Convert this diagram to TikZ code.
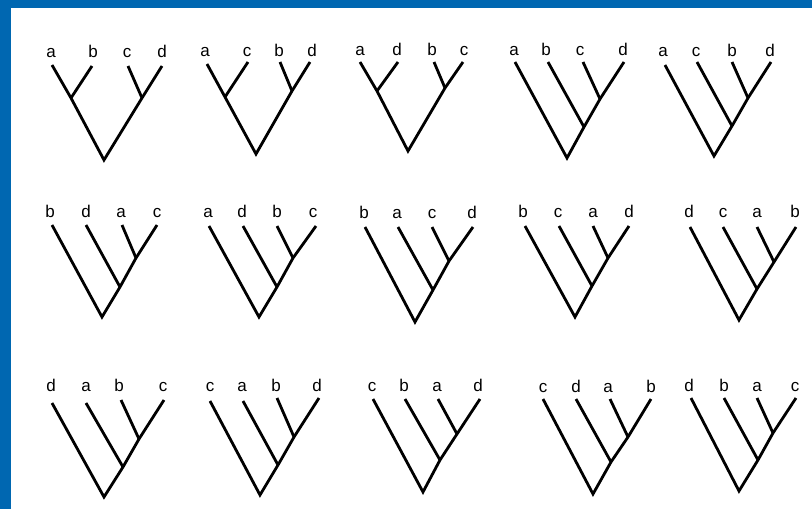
\documentclass[tikz,border=0pt]{standalone}
\usepackage{fontspec}
\setmainfont{Liberation Sans}
\definecolor{frameblue}{RGB}{0,103,177}
\tikzset{
  br/.style={line width=2.8pt, black},
  lab/.style={anchor=base, inner sep=0pt, font=\fontsize{17}{17}\selectfont},
}
\newcommand\leaves[3]{\foreach \t/\x [count=\i] in {#2} {\node[lab] (#1l\i) at (\x,#3) {\t};}}
\newcommand\tips[2]{\foreach \x/\y [count=\i] in {#2} {\coordinate (#1t\i) at (\x,\y);}}
\newcommand\ladder[1]{\draw[br] (#1t1) -- (#1r) -- (#1k) -- (#1j) -- (#1t4); \draw[br] (#1t2) -- (#1k); \draw[br] (#1t3) -- (#1j);}
\newcommand\symtree[1]{\draw[br] (#1t1) -- (#1j) -- (#1r) -- (#1k) -- (#1t4); \draw[br] (#1t2) -- (#1j); \draw[br] (#1t3) -- (#1k);}
\begin{document}
\begin{tikzpicture}[x=1pt,y=-1pt]
\useasboundingbox (0,0) rectangle (812,509);
\fill[white] (0,0) rectangle (812,509);
\fill[frameblue] (0,0) rectangle (11,509);
\fill[frameblue] (0,0) rectangle (812,8);
% Row 1
\leaves{A}{a/51,b/93,c/127,d/162}{57}
\tips{A}{52/65,92/66,128/66,162/66}
\coordinate (Aj) at (71,98); \coordinate (Ak) at (142,98); \coordinate (Ar) at (104,160);
\symtree{A}
\leaves{B}{a/205,c/247,b/279,d/312}{56}
\tips{B}{207/64,248/62,280/62,310/62}
\coordinate (Bj) at (225,97); \coordinate (Bk) at (292,91); \coordinate (Br) at (256,154);
\symtree{B}
\leaves{C}{a/360,d/397,b/432,c/464}{55}
\tips{C}{360/62,398/62,434/62,463/62}
\coordinate (Cj) at (377,91); \coordinate (Ck) at (445,88); \coordinate (Cr) at (408,151);
\symtree{C}
\leaves{D}{a/514,b/546,c/580,d/623}{55}
\tips{D}{515/62,548/62,583/62,624/62}
\coordinate (Dj) at (600,99); \coordinate (Dk) at (584,127); \coordinate (Dr) at (567,158);
\ladder{D}
\leaves{E}{a/663,c/696,b/732,d/770}{56}
\tips{E}{665/65,697/62,732/62,771/62}
\coordinate (Ej) at (748,98); \coordinate (Ek) at (732,126); \coordinate (Er) at (714,156);
\ladder{E}
% Row 2
\leaves{F}{b/50,d/86,a/121,c/157}{217}
\tips{F}{52/225,86/225,122/225,157/225}
\coordinate (Fj) at (136,258); \coordinate (Fk) at (120,287); \coordinate (Fr) at (102,317);
\ladder{F}
\leaves{G}{a/208,d/242,b/277,c/313}{217}
\tips{G}{209/226,243/226,277/226,316/226}
\coordinate (Gj) at (293,258); \coordinate (Gk) at (277,287); \coordinate (Gr) at (259,317);
\ladder{G}
\leaves{H}{b/364,a/397,c/432,d/472}{218}
\tips{H}{365/227,398/227,432/227,473/227}
\coordinate (Hj) at (449,261); \coordinate (Hk) at (433,290); \coordinate (Hr) at (415,322);
\ladder{H}
\leaves{I}{b/523,c/558,a/593,d/629}{217}
\tips{I}{525/226,559/226,593/226,629/226}
\coordinate (Ij) at (608,258); \coordinate (Ik) at (592,286); \coordinate (Ir) at (575,317);
\ladder{I}
\leaves{J}{d/689,c/723,a/757,b/795}{217}
\tips{J}{690/227,723/227,757/227,796/227}
\coordinate (Jj) at (774,262); \coordinate (Jk) at (757,289); \coordinate (Jr) at (739,320);
\ladder{J}
% Row 3
\leaves{K}{d/51,a/86,b/119,c/163}{391}
\tips{K}{52/403,86/403,121/400,164/400}
\coordinate (Kj) at (139,439); \coordinate (Kk) at (123,467); \coordinate (Kr) at (104,497);
\ladder{K}
\leaves{L}{c/210,a/242,b/276,d/317}{391}
\tips{L}{210/401,243/401,277/398,319/398}
\coordinate (Lj) at (294,437); \coordinate (Lk) at (278,465); \coordinate (Lr) at (260,495);
\ladder{L}
\leaves{M}{c/372,b/404,a/437,d/478}{391}
\tips{M}{373/399,405/399,438/399,480/399}
\coordinate (Mj) at (457,434); \coordinate (Mk) at (440,460); \coordinate (Mr) at (423,492);
\ladder{M}
\leaves{N}{c/543,d/576,a/608,b/651}{392}
\tips{N}{543/399,576/399,610/399,651/399}
\coordinate (Nj) at (628,437); \coordinate (Nk) at (611,462); \coordinate (Nr) at (593,494);
\ladder{N}
\leaves{O}{d/689,b/724,a/757,c/795}{391}
\tips{O}{691/398,724/398,757/398,796/398}
\coordinate (Oj) at (773,433); \coordinate (Ok) at (758,460); \coordinate (Or) at (739,491);
\ladder{O}
\end{tikzpicture}
\end{document}
